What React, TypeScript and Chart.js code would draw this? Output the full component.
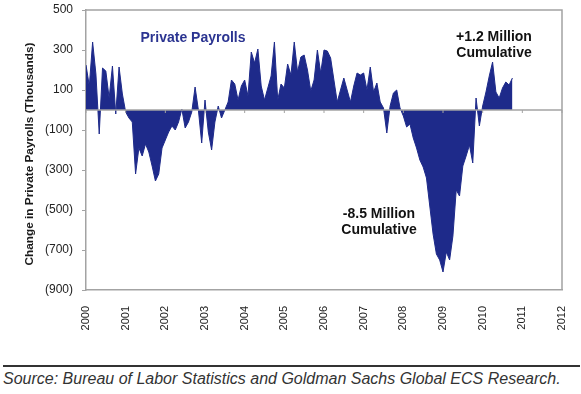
import React, { useEffect, useRef } from "react";
import { Chart, registerables } from "chart.js";

Chart.register(...registerables);

// Monthly change in private payrolls (thousands), Jan 2000 – Oct 2010
const y2000 = [225, 120, 340, 180, -120, 210, 195, 60, 220, -20, 215, 80];
const y2001 = [-10, -40, -60, -320, -190, -230, -170, -210, -280, -355, -320, -190];
const y2002 = [-150, -110, -80, -100, -60, 5, -90, -60, -10, 115, 0, -165];
const y2003 = [50, -110, -200, -60, 20, -40, 0, 40, 150, 130, 50, 120];
const y2004 = [150, 70, 290, 235, 305, 120, 50, 110, 170, 340, 50, 130];
const y2005 = [110, 230, 175, 340, 190, 265, 275, 200, 95, 150, 300, 185];
const y2006 = [300, 295, 260, 150, 40, 100, 160, 100, 40, 120, 185, 175];
const y2007 = [185, 100, 215, 90, 135, 40, 10, -115, 20, 85, 100, 10];
const y2008 = [-30, -85, -70, -140, -190, -250, -285, -340, -480, -620, -720, -750];
const y2009 = [-810, -710, -750, -630, -400, -430, -280, -230, -175, -265, 60, -80];
const y2010 = [20, 90, 170, 240, 90, 60, 110, 140, 125, 160];

const START_YEAR = 2000;
const yearTicks = [2000, 2001, 2002, 2003, 2004, 2005, 2006, 2007, 2008, 2009, 2010, 2011, 2012];
const yTickValues = [500, 300, 100, -100, -300, -500, -700, -900];

const seriesLabel = "Private Payrolls";
const yTitle = "Change in Private Payrolls (Thousands)";
const noteUp = ["+1.2 Million", "Cumulative"];
const noteDown = ["-8.5 Million", "Cumulative"];
const sourceText = "Source: Bureau of Labor Statistics and Goldman Sachs Global ECS Research.";

const FILL = "#1E2A8A";
const AXIS = "#A3A3A3";
const FONT = "'Liberation Sans', Arial, sans-serif";

export default function App() {
  const ref = useRef<HTMLCanvasElement>(null);

  useEffect(() => {
    const monthly = [
      ...y2000, ...y2001, ...y2002, ...y2003, ...y2004, ...y2005,
      ...y2006, ...y2007, ...y2008, ...y2009, ...y2010,
    ];
    const points = monthly.map((v, i) => ({ x: i, y: v }));

    const decor = {
      id: "decor",
      afterDatasetsDraw(chart: any) {
        const { ctx, chartArea: a, scales } = chart;
        const xs = scales.x;
        const ys = scales.y;
        ctx.save();
        // frame top & right
        ctx.strokeStyle = AXIS;
        ctx.lineWidth = 1.5;
        ctx.beginPath();
        ctx.moveTo(a.left, a.top);
        ctx.lineTo(a.right, a.top);
        ctx.lineTo(a.right, a.bottom);
        ctx.stroke();
        // zero line with year ticks
        const y0 = ys.getPixelForValue(0);
        ctx.beginPath();
        ctx.moveTo(a.left, y0);
        ctx.lineTo(a.right, y0);
        ctx.stroke();
        ctx.lineWidth = 1;
        yearTicks.forEach((yr) => {
          const px = xs.getPixelForValue((yr - START_YEAR) * 12);
          ctx.beginPath();
          ctx.moveTo(px, y0);
          ctx.lineTo(px, y0 + 3);
          ctx.stroke();
        });
        // y title
        ctx.fillStyle = "#1a1a1a";
        ctx.font = `bold 11.8px ${FONT}`;
        ctx.textAlign = "center";
        ctx.textBaseline = "middle";
        ctx.translate(30, 154);
        ctx.rotate(-Math.PI / 2);
        ctx.fillText(yTitle, 0, 0);
        ctx.restore();

        ctx.save();
        ctx.textAlign = "center";
        ctx.textBaseline = "alphabetic";
        ctx.font = `bold 14px ${FONT}`;
        ctx.fillStyle = "#2B3491";
        ctx.fillText(seriesLabel, 193, 42);
        ctx.fillStyle = "#111";
        ctx.fillText(noteUp[0], 494, 41);
        ctx.fillText(noteUp[1], 494, 57);
        ctx.fillText(noteDown[0], 379, 218);
        ctx.fillText(noteDown[1], 379, 234);
        ctx.restore();
      },
    };

    const chart = new Chart(ref.current!, {
      type: "line",
      data: {
        datasets: [
          {
            label: seriesLabel,
            data: points,
            fill: "origin",
            backgroundColor: FILL,
            borderColor: FILL,
            borderWidth: 1,
            pointRadius: 0,
            tension: 0,
          },
        ],
      },
      options: {
        animation: false,
        responsive: false,
        maintainAspectRatio: false,
        layout: { padding: { top: 10, right: 19, left: 0, bottom: 0 } },
        plugins: { legend: { display: false }, tooltip: { enabled: false } },
        scales: {
          x: {
            type: "linear",
            min: 0,
            max: (yearTicks[yearTicks.length - 1] - START_YEAR) * 12,
            afterBuildTicks: (s: any) => {
              s.ticks = yearTicks.map((yr) => ({ value: (yr - START_YEAR) * 12 }));
            },
            afterFit: (s: any) => {
              s.height = 55;
              s.paddingLeft = 0;
              s.paddingRight = 0;
            },
            ticks: {
              autoSkip: false,
              minRotation: 90,
              maxRotation: 90,
              padding: 16,
              color: "#222",
              font: { family: FONT, size: 11 },
              callback: (v: any) => String(START_YEAR + Math.round(Number(v) / 12)),
            },
            grid: { drawOnChartArea: false, drawTicks: false },
            border: { color: AXIS, width: 1.5 },
          },
          y: {
            min: -900,
            max: 500,
            afterBuildTicks: (s: any) => {
              s.ticks = yTickValues.map((v) => ({ value: v }));
            },
            afterFit: (s: any) => {
              s.width = 86;
              s.paddingTop = 0;
              s.paddingBottom = 0;
            },
            ticks: {
              padding: 9,
              color: "#222",
              font: { family: FONT, size: 12 },
              callback: (v: any) => (Number(v) < 0 ? `(${-Number(v)})` : String(v)),
            },
            grid: { drawOnChartArea: false, tickLength: 4, color: AXIS },
            border: { color: AXIS, width: 1.5 },
          },
        },
      },
      plugins: [decor],
    });
    return () => chart.destroy();
  }, []);

  return (
    <div
      style={{
        position: "absolute",
        left: 0,
        top: 0,
        width: 581,
        height: 394,
        background: "#fff",
        overflow: "hidden",
        fontFamily: FONT,
      }}
    >
      <canvas ref={ref} width={581} height={345} style={{ display: "block" }} />
      <div
        style={{
          position: "absolute",
          left: 3,
          top: 365,
          width: 577,
          borderTop: "2px solid #333",
        }}
      />
      <div
        style={{
          position: "absolute",
          left: 3,
          top: 370,
          fontSize: 16,
          fontStyle: "italic",
          color: "#333",
          whiteSpace: "nowrap",
          lineHeight: "18px",
        }}
      >
        {sourceText}
      </div>
    </div>
  );
}
